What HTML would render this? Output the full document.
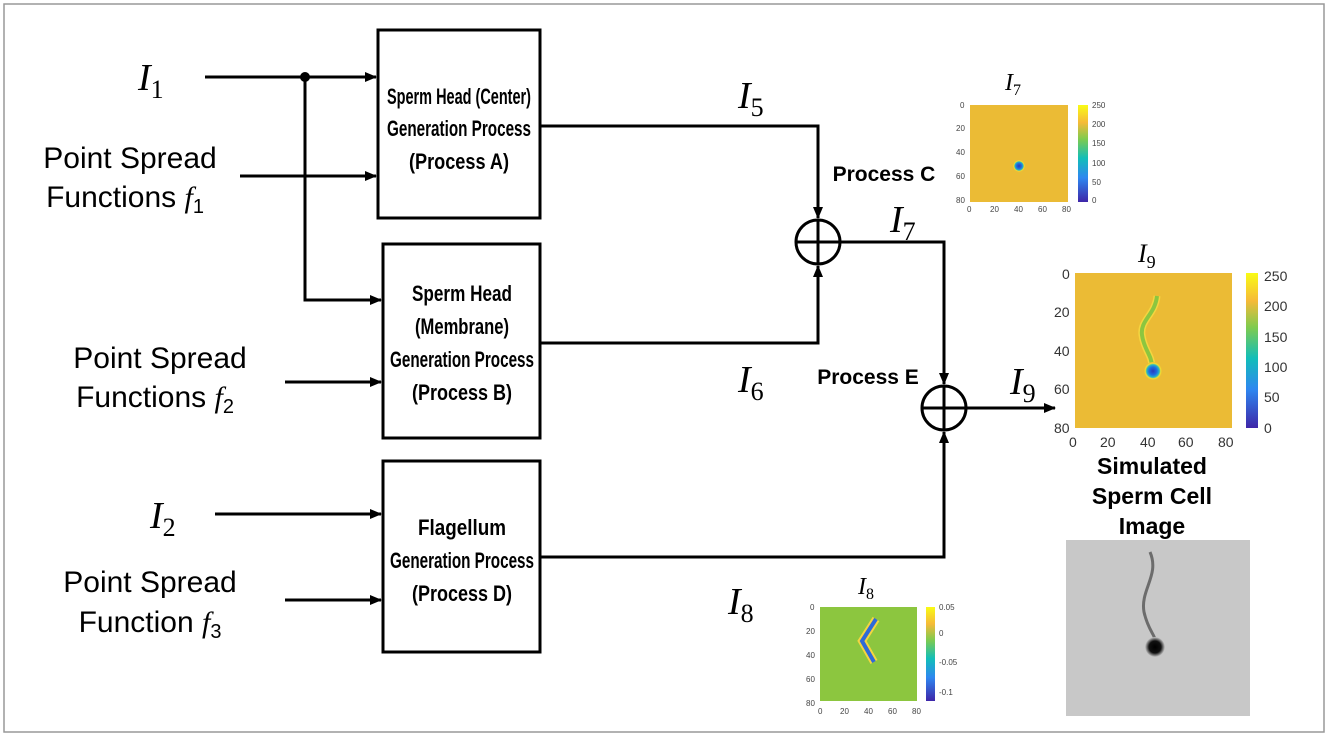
<!DOCTYPE html>
<html><head><style>body{margin:0;background:#fff}svg{display:block}</style></head><body>
<svg width="1328" height="736" viewBox="0 0 1328 736" xmlns="http://www.w3.org/2000/svg" font-family="Liberation Sans, sans-serif">
<defs>
<marker id="a" markerWidth="12" markerHeight="10" refX="11" refY="5" orient="auto" markerUnits="userSpaceOnUse"><path d="M0,0 L12,5 L0,10 Z" fill="#000"/></marker>
<linearGradient id="cb" x1="0" y1="1" x2="0" y2="0"><stop offset="0" stop-color="#3e26a8"/><stop offset=".25" stop-color="#2e87f0"/><stop offset=".45" stop-color="#12beb9"/><stop offset=".65" stop-color="#7fcb4e"/><stop offset=".82" stop-color="#f6ba38"/><stop offset="1" stop-color="#f9fb15"/></linearGradient>
<radialGradient id="sp"><stop offset="0" stop-color="#2a3ab8"/><stop offset=".45" stop-color="#1f6fe0"/><stop offset=".7" stop-color="#2ab8c0"/><stop offset=".85" stop-color="#f5e030"/><stop offset="1" stop-color="#ebbb35"/></radialGradient>
<radialGradient id="bk"><stop offset="0" stop-color="#000"/><stop offset=".6" stop-color="#111"/><stop offset="1" stop-color="#c8c8c8"/></radialGradient>
</defs>
<rect x="4" y="4" width="1320" height="728" fill="#fff" stroke="#999" stroke-width="1.5"/>
<g fill="none" stroke="#000" stroke-width="3">
<rect x="378" y="30" width="162" height="188"/>
<rect x="383" y="244" width="157" height="194"/>
<rect x="383" y="461" width="157" height="191"/>
<circle cx="818" cy="242" r="22"/><path d="M796,242H840M818,220V264"/>
<circle cx="944" cy="408" r="22"/><path d="M922,408H966M944,386V430"/>
<path d="M205,77H376" marker-end="url(#a)"/>
<path d="M305,77V300H381" marker-end="url(#a)"/>
<path d="M240,176H376" marker-end="url(#a)"/>
<path d="M285,382H381" marker-end="url(#a)"/>
<path d="M215,514H381" marker-end="url(#a)"/>
<path d="M285,600H381" marker-end="url(#a)"/>
<path d="M540,126H818V218" marker-end="url(#a)"/>
<path d="M540,343H818V266" marker-end="url(#a)"/>
<path d="M840,242H944V384" marker-end="url(#a)"/>
<path d="M540,557H944V432" marker-end="url(#a)"/>
<path d="M966,408H1055" marker-end="url(#a)"/>
</g>
<circle cx="305" cy="77" r="5" fill="#000"/>
<g font-family="Liberation Serif, serif" font-style="italic" font-size="38">
<text x="138" y="90">I<tspan font-size="26" font-style="normal" dy="8">1</tspan></text>
<text x="150" y="528">I<tspan font-size="26" font-style="normal" dy="8">2</tspan></text>
<text x="738" y="108">I<tspan font-size="26" font-style="normal" dy="8">5</tspan></text>
<text x="738" y="392">I<tspan font-size="26" font-style="normal" dy="8">6</tspan></text>
<text x="890" y="232">I<tspan font-size="26" font-style="normal" dy="8">7</tspan></text>
<text x="1010" y="394">I<tspan font-size="26" font-style="normal" dy="8">9</tspan></text>
<text x="728" y="614">I<tspan font-size="26" font-style="normal" dy="8">8</tspan></text>
<text x="1005" y="90" font-size="24">I<tspan font-size="16" font-style="normal" dy="5">7</tspan></text>
<text x="1138" y="262" font-size="26">I<tspan font-size="18" font-style="normal" dy="6">9</tspan></text>
<text x="858" y="594" font-size="24">I<tspan font-size="16" font-style="normal" dy="5">8</tspan></text>
</g>
<g font-size="30" text-anchor="middle">
<text x="130" y="168">Point Spread</text>
<text x="125" y="207">Functions <tspan font-family="Liberation Serif,serif" font-style="italic">f</tspan><tspan font-size="20" dy="6">1</tspan></text>
<text x="160" y="368">Point Spread</text>
<text x="155" y="407">Functions <tspan font-family="Liberation Serif,serif" font-style="italic">f</tspan><tspan font-size="20" dy="6">2</tspan></text>
<text x="150" y="592">Point Spread</text>
<text x="150" y="632">Function <tspan font-family="Liberation Serif,serif" font-style="italic">f</tspan><tspan font-size="20" dy="6">3</tspan></text>
</g>
<g font-size="22" font-weight="bold" text-anchor="middle">
<text x="459" y="104" textLength="144" lengthAdjust="spacingAndGlyphs">Sperm Head (Center)</text>
<text x="459" y="136" textLength="144" lengthAdjust="spacingAndGlyphs">Generation Process</text>
<text x="459" y="169" textLength="100" lengthAdjust="spacingAndGlyphs">(Process A)</text>
<text x="462" y="301" textLength="100" lengthAdjust="spacingAndGlyphs">Sperm Head</text>
<text x="462" y="334" textLength="94" lengthAdjust="spacingAndGlyphs">(Membrane)</text>
<text x="462" y="367" textLength="144" lengthAdjust="spacingAndGlyphs">Generation Process</text>
<text x="462" y="400" textLength="100" lengthAdjust="spacingAndGlyphs">(Process B)</text>
<text x="462" y="535" textLength="88" lengthAdjust="spacingAndGlyphs">Flagellum</text>
<text x="462" y="568" textLength="144" lengthAdjust="spacingAndGlyphs">Generation Process</text>
<text x="462" y="601" textLength="100" lengthAdjust="spacingAndGlyphs">(Process D)</text>
<text x="884" y="181" font-size="21">Process C</text>
<text x="868" y="384" font-size="21">Process E</text>
<text x="1152" y="474" font-size="23">Simulated</text>
<text x="1152" y="504" font-size="23">Sperm Cell</text>
<text x="1152" y="534" font-size="23">Image</text>
</g>
<rect x="970" y="105" width="98" height="97" fill="#ebbb35"/>
<circle cx="1019" cy="166" r="6" fill="url(#sp)"/>
<rect x="1078" y="105" width="10" height="97" fill="url(#cb)"/>
<g font-size="8" fill="#444"><text x="960" y="108">0</text><text x="956" y="131">20</text><text x="956" y="155">40</text><text x="956" y="179">60</text><text x="956" y="203">80</text>
<text x="967" y="212">0</text><text x="990" y="212">20</text><text x="1014" y="212">40</text><text x="1038" y="212">60</text><text x="1062" y="212">80</text>
<text x="1092" y="108">250</text><text x="1092" y="127">200</text><text x="1092" y="146">150</text><text x="1092" y="166">100</text><text x="1092" y="185">50</text><text x="1092" y="203">0</text></g>
<rect x="1075" y="273" width="157" height="155" fill="#ebbb35"/>
<path d="M1157,296 C1155,315 1140,320 1142,335 C1144,350 1152,355 1152,367" fill="none" stroke="#f5d540" stroke-width="7"/>
<path d="M1157,296 C1155,315 1140,320 1142,335 C1144,350 1152,355 1152,367" fill="none" stroke="#8cc63f" stroke-width="4"/>
<circle cx="1153" cy="371" r="9" fill="url(#sp)"/>
<rect x="1246" y="273" width="12" height="155" fill="url(#cb)"/>
<g font-size="14" fill="#333"><text x="1062" y="279">0</text><text x="1054" y="317">20</text><text x="1054" y="356">40</text><text x="1054" y="394">60</text><text x="1054" y="433">80</text>
<text x="1069" y="447">0</text><text x="1100" y="447">20</text><text x="1140" y="447">40</text><text x="1178" y="447">60</text><text x="1218" y="447">80</text>
<text x="1264" y="281">250</text><text x="1264" y="311">200</text><text x="1264" y="342">150</text><text x="1264" y="372">100</text><text x="1264" y="402">50</text><text x="1264" y="433">0</text></g>
<rect x="820" y="607" width="97" height="94" fill="#8cc63f"/>
<path d="M876,619 L862,641 L874,662" fill="none" stroke="#f5d540" stroke-width="8"/>
<path d="M876,619 L862,641 L874,662" fill="none" stroke="#2e6ad8" stroke-width="4"/>
<rect x="926" y="607" width="9" height="94" fill="url(#cb)"/>
<g font-size="8" fill="#444"><text x="810" y="610">0</text><text x="806" y="634">20</text><text x="806" y="658">40</text><text x="806" y="682">60</text><text x="806" y="706">80</text>
<text x="818" y="714">0</text><text x="840" y="714">20</text><text x="864" y="714">40</text><text x="888" y="714">60</text><text x="912" y="714">80</text>
<text x="939" y="610">0.05</text><text x="939" y="636">0</text><text x="939" y="665">-0.05</text><text x="939" y="695">-0.1</text></g>
<rect x="1066" y="540" width="184" height="176" fill="#c8c8c8"/>
<path d="M1150,552 C1160,575 1140,590 1144,612 C1148,630 1155,635 1155,640" fill="none" stroke="#555" stroke-width="3" opacity=".8"/>
<circle cx="1155" cy="647" r="10" fill="url(#bk)"/>
</svg>
</body></html>
